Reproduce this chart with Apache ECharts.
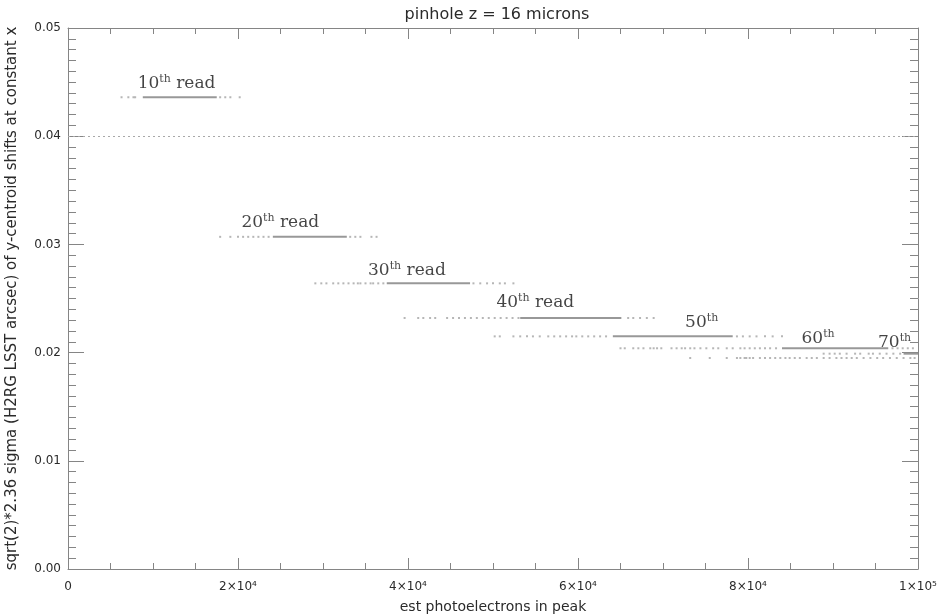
<!DOCTYPE html>
<html>
<head>
<meta charset="utf-8">
<script src="https://cdn.jsdelivr.net/npm/echarts@6/dist/echarts.min.js"></script>
<style>
  html, body { margin: 0; padding: 0; background: #fff; }
  #chart { width: 939px; height: 614px; }
</style>
</head>
<body>
<div id="chart"></div>
<script>
// read rows: level (y) and the dense stretch, x in units of 1e3 photoelectrons
var rowLevels = [0.0436, 0.0307, 0.0264, 0.0232, 0.0215, 0.0204, 0.0199, 0.0195];
var denseFrom = [8.8, 24.1, 37.5, 53.2, 64.1, 84.0, 98.3, null];
var denseTo   = [17.5, 32.8, 47.3, 65.1, 78.2, 96.5, 100.0, null];
var sparseX = [
  [6.3, 7.1, 7.7, 7.9, 17.9, 18.5, 19.1, 20.2],
  [17.9, 19.1, 20.0, 20.6, 21.2, 21.8, 22.4, 23.0, 23.6, 33.2, 33.8, 34.4, 35.7, 36.3],
  [29.1, 29.8, 30.4, 31.2, 31.8, 32.4, 33.0, 33.6, 34.1, 34.4, 35.0, 35.6, 35.9, 36.5, 37.1,
   47.7, 48.5, 49.3, 50.0, 50.8, 51.4, 52.4],
  [39.6, 41.2, 41.8, 42.6, 43.2, 44.6, 45.3, 46.0, 46.7, 47.4, 48.1, 48.8, 49.5, 50.2, 50.9,
   51.6, 52.3, 53.0, 65.9, 66.5, 67.3, 68.1, 68.9],
  [50.2, 50.8, 52.4, 53.2, 54.0, 54.7, 55.5, 56.5, 57.2, 57.9, 58.6, 59.3, 59.8, 60.5, 61.2,
   61.9, 62.6, 63.3, 78.7, 79.4, 80.2, 81.0, 82.0, 82.9, 84.0],
  [65.0, 65.5, 66.5, 67.1, 67.7, 68.5, 68.9, 69.3, 69.8, 71.0, 71.6, 72.2, 72.6, 73.2, 73.7,
   74.4, 75.1, 75.9, 76.5, 77.5, 78.2, 79.1, 79.6, 80.2, 80.8, 81.4, 82.0, 82.6, 83.3,
   97.0, 97.6, 98.2, 98.8, 99.4],
  [88.9, 89.6, 90.2, 90.8, 91.6, 92.6, 93.2, 94.2, 94.7, 95.5, 96.3, 97.1, 97.9],
  [73.2, 75.5, 77.5, 78.7, 79.1, 79.6, 79.8, 80.2, 80.6, 81.4, 82.0, 82.6, 83.2, 83.8, 84.4,
   84.9, 85.5, 86.1, 86.9, 87.5, 88.1, 88.9, 89.6, 90.4, 91.0, 91.6, 92.2, 92.8, 93.6, 94.4,
   95.2, 95.9, 96.7, 97.5, 98.3, 99.1, 99.6]
];

// annotations
var labelNum  = ['10', '20', '30', '40', '50', '60', '70'];
var labelTail = [' read', ' read', ' read', ' read', '', '', ''];
var labelX = [8.2, 20.4, 35.3, 50.4, 72.6, 86.3, 95.3];
var labelY = [0.0449, 0.0320, 0.0276, 0.0246, 0.0228, 0.0213, 0.0209];

var refLevel = 0.04;
var xTickLabels = ['0', '2×10⁴', '4×10⁴', '6×10⁴', '8×10⁴', '1×10⁵'];
var yTickLabels = ['0.00', '0.01', '0.02', '0.03', '0.04', '0.05'];

var axisColor = '#858585';
var textColor = '#2a2a2a';

var chart = echarts.init(document.getElementById('chart'));

function xAxisBase(pos, showLabel) {
  return {
    type: 'value', position: pos, min: 0, max: 100000, interval: 20000,
    axisLine: { show: true, onZero: false, lineStyle: { color: axisColor, width: 1 } },
    axisTick: { show: true, inside: true, length: 11, lineStyle: { color: axisColor } },
    minorTick: { show: true, splitNumber: 4, length: 6, lineStyle: { color: axisColor } },
    splitLine: { show: false },
    axisLabel: {
      show: showLabel, margin: 12, color: textColor, fontSize: 12, fontFamily: 'DejaVu Sans',
      formatter: function (v) { return xTickLabels[Math.round(v / 20000)]; }
    }
  };
}
function yAxisBase(pos, showLabel) {
  return {
    type: 'value', position: pos, min: 0, max: 0.05, interval: 0.01,
    axisLine: { show: true, onZero: false, lineStyle: { color: axisColor, width: 1 } },
    axisTick: { show: true, inside: true, length: 16, lineStyle: { color: axisColor } },
    minorTick: { show: true, splitNumber: 10, length: 8, lineStyle: { color: axisColor } },
    splitLine: { show: false },
    axisLabel: {
      show: showLabel, margin: 7, color: textColor, fontSize: 12, fontFamily: 'DejaVu Sans',
      formatter: function (v) { return yTickLabels[Math.round(v / 0.01)]; }
    }
  };
}

var series = [];
rowLevels.forEach(function (lv, i) {
  if (denseFrom[i] !== null) {
    series.push({
      type: 'line', xAxisIndex: 0, yAxisIndex: 0, symbol: 'none', silent: true,
      lineStyle: { color: '#989898', width: 2 },
      data: [[denseFrom[i] * 1000, lv], [denseTo[i] * 1000, lv]]
    });
  }
  series.push({
    type: 'scatter', xAxisIndex: 0, yAxisIndex: 0, symbol: 'rect', symbolSize: [2, 2], silent: true,
    itemStyle: { color: '#a4a4a4' },
    data: sparseX[i].map(function (x) { return [x * 1000, lv]; })
  });
});

series.push({
  type: 'line', xAxisIndex: 0, yAxisIndex: 0, symbol: 'none', silent: true,
  data: [],
  markLine: {
    silent: true, symbol: 'none', label: { show: false },
    lineStyle: { color: '#a8a8a8', type: [2, 3], width: 1 },
    data: [{ yAxis: refLevel }]
  }
});

series.push({
  type: 'scatter', xAxisIndex: 0, yAxisIndex: 0, symbolSize: 0, silent: true,
  data: labelX.map(function (x, i) { return [x * 1000, labelY[i], i]; }),
  label: {
    show: true, position: 'right', distance: 0,
    formatter: function (p) {
      var i = p.data[2];
      return '{n|' + labelNum[i] + '}{s|th}' + (labelTail[i] ? '{n|' + labelTail[i] + '}' : '');
    },
    rich: {
      n: { fontFamily: 'DejaVu Serif', fontSize: 17, color: '#151515', lineHeight: 22 },
      s: { fontFamily: 'DejaVu Serif', fontSize: 11, color: '#151515', lineHeight: 22, padding: [0, 0, 9, 0] }
    }
  }
});

chart.setOption({
  animation: false,
  backgroundColor: '#fff',
  title: {
    text: 'pinhole z = 16 microns', left: 492, top: 2, textAlign: 'center',
    textStyle: { fontFamily: 'DejaVu Sans', fontSize: 16, fontWeight: 'normal', color: textColor }
  },
  grid: { left: 68, right: 21, top: 28, bottom: 45, containLabel: false, outerBoundsMode: 'none' },
  xAxis: [
    Object.assign(xAxisBase('bottom', true), {
      name: 'est photoelectrons in peak', nameLocation: 'middle', nameGap: 31,
      nameTextStyle: { fontFamily: 'DejaVu Sans', fontSize: 14, color: textColor }
    }),
    xAxisBase('top', false)
  ],
  yAxis: [
    Object.assign(yAxisBase('left', true), {
      name: 'sqrt(2)*2.36 sigma (H2RG LSST arcsec) of y-centroid shifts at constant x',
      nameLocation: 'middle', nameGap: 48,
      nameTextStyle: { fontFamily: 'DejaVu Sans', fontSize: 15, color: textColor }
    }),
    yAxisBase('right', false)
  ],
  series: series
});
</script>
</body>
</html>
